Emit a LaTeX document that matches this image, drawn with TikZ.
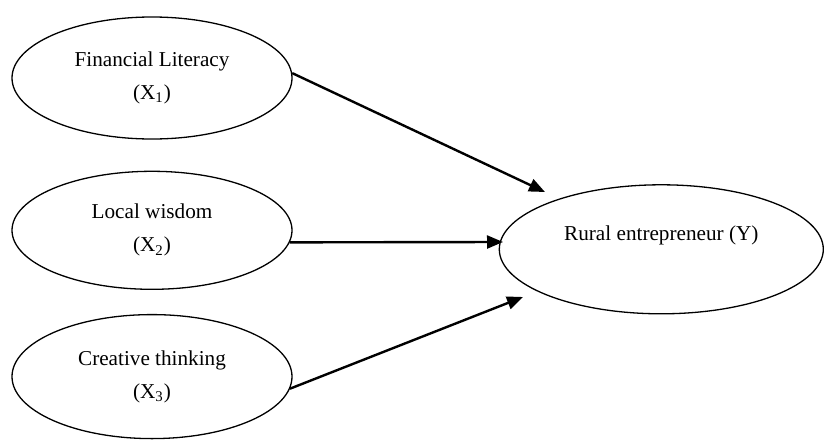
\documentclass[tikz,border=0pt]{standalone}
\usepackage{fontspec}
\setmainfont{Liberation Serif}
\usepackage{tikz}
\usetikzlibrary{shapes.geometric,arrows.meta,positioning}

\begin{document}
\begin{tikzpicture}[
  x=0.5pt, y=-0.5pt,
  font=\fontsize{10.6}{16.5}\selectfont,
  every node/.style={align=center},
  latent/.style={draw, ellipse, line width=0.65pt, minimum width=140pt, inner sep=0pt},
  arr/.style={-{Triangle[length=8pt,width=6.5pt]}, line width=1.2pt}
]
\useasboundingbox (0,0) rectangle (824,439);
\node[latent, minimum height=61pt] (fl) at (152,78) {Financial Literacy\\(X\textsubscript{1})};
\node[latent, minimum height=59pt, below=15.5pt of fl] (lw) {Local wisdom\\(X\textsubscript{2})};
\node[latent, minimum height=62pt, below=12pt of lw] (ct) {Creative thinking\\(X\textsubscript{3})};
\node[latent, minimum width=162pt, minimum height=64.5pt, right=103pt of lw, yshift=-9.5pt] (re) {Rural entrepreneur (Y)\\\mbox{}};
% arrow tips stop short of the outcome ellipse
\coordinate (t1) at (545,192);
\coordinate (t2) at (503,242);
\coordinate (t3) at (523,297);
\draw[arr] (fl.2) -- (t1);
\draw[arr] (lw.-5) -- (t2);
\draw[arr] (ct.-5) -- (t3);
\end{tikzpicture}
\end{document}
